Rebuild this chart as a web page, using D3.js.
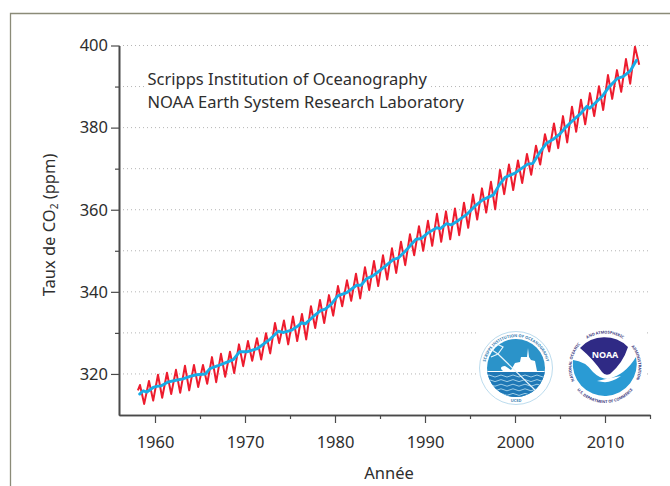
<!DOCTYPE html>
<html>
<head>
<meta charset="utf-8">
<script src="https://cdn.jsdelivr.net/npm/d3@7"></script>
<style>
    html, body { margin: 0; padding: 0; background: #fff; overflow: hidden; }
    svg { display: block; }
    text { font-family: "Noto Sans", "Open Sans", sans-serif; fill: #2e2e2e; }
</style>
</head>
<body>
<svg id="grafico" width="670" height="486"></svg>
<script>
// valeurs
const annees = [1958, 1959, 1960, 1961, 1962, 1963, 1964, 1965, 1966, 1967, 1968, 1969, 1970, 1971,
    1972, 1973, 1974, 1975, 1976, 1977, 1978, 1979, 1980, 1981, 1982, 1983, 1984, 1985, 1986, 1987,
    1988, 1989, 1990, 1991, 1992, 1993, 1994, 1995, 1996, 1997, 1998, 1999, 2000, 2001, 2002, 2003,
    2004, 2005, 2006, 2007, 2008, 2009, 2010, 2011, 2012, 2013];
const maxima = [317.3, 318.3, 319.8, 320.3, 321, 322, 322.2, 322.2, 324.1, 324.9, 325.4, 327.2, 328, 328.7,
    329.9, 332.4, 333, 334, 334.6, 336.5, 338, 339.2, 341.4, 342.8, 344.4, 346, 347.5, 348.9, 350.6, 352.2,
    354, 356, 357.3, 359, 359.6, 360.3, 361.7, 363.7, 365.2, 366.8, 369.7, 371, 372, 373.6, 375.6, 378.4,
    381, 382.8, 385.1, 386.8, 388.4, 390.1, 392.8, 394, 396.7, 399.7];
const minima = [312.7, 313.5, 314.2, 315.1, 315.4, 316, 316.8, 317.6, 318, 319.3, 320.2, 321.9, 323.2, 323.5,
    325, 327.5, 327.2, 328, 328.4, 331.2, 332.4, 334.2, 336.5, 337.8, 338.4, 340.4, 341.4, 343, 344.6, 346.5,
    348.9, 350, 351.2, 352.2, 352.8, 353.8, 355.6, 357.6, 359.3, 360.1, 363.8, 364.8, 366.5, 368.5, 371, 374.2,
    375, 376.4, 379, 380.8, 382.8, 384.3, 387, 388.7, 390.7, 395.3];
const debutRouge = { annee: 1958.1, co2: 316 };

const anneesTendance = [1958.3, 1958.7, 1959.1, 1959.8, 1960.2, 1960.7, 1961.4, 1962.2, 1963.1, 1963.9, 1964.6,
    1965.6, 1966.1, 1967, 1967.8, 1968.7, 1969.4, 1970.2, 1971.4, 1972.8, 1973.7, 1974.3, 1975.2, 1975.9, 1976.3,
    1976.7, 1977.6, 1978.4, 1978.9, 1979.6, 1980.3, 1981.3, 1982.4, 1982.9, 1983.5, 1984.2, 1985, 1986.5, 1987,
    1987.8, 1988.5, 1989, 1989.6, 1990.3, 1991.3, 1991.7, 1992.4, 1992.9, 1993.7, 1994.6, 1995.6, 1996.4, 1997.6,
    1998.3, 1998.9, 2000, 2000.7, 2001.4, 2002, 2002.8, 2003.5, 2004.2, 2005, 2005.6, 2006.3, 2007.2, 2008, 2008.3,
    2009.8, 2010.4, 2011.4, 2012, 2012.8, 2013.5];
const tendance = [315.1, 315.9, 315.6, 316.7, 317, 317.1, 318, 318.4, 318.8, 319.4, 319.8,
    320, 321.3, 322, 322.7, 323.5, 325.4, 325.4, 326.2, 328.5, 330.4, 330.1, 330.7, 331.7, 332.5,
    332.2, 334, 335.4, 335.8, 337, 339, 339.8, 341.6, 341.6, 343.2, 343.9, 345.2, 347.9, 348.2,
    349.9, 351.6, 352.8, 353, 354.3, 355.6, 355.4, 356.6, 356.3, 357.4, 358.8, 361, 362.4, 363.6,
    366.2, 367.9, 368.9, 370, 371.1, 371.3, 374.1, 376.2, 377.1, 378.5, 380, 381.5, 383.2, 385.2, 384.7,
    387.9, 389.8, 392, 392.4, 393.8, 396.4];

const ticksX = [1960, 1970, 1980, 1990, 2000, 2010];
const ticksXMineurs = [1965, 1975, 1985, 1995, 2005, 2015];
const ticksY = [320, 340, 360, 380, 400];
const ticksYMineurs = [330, 350, 370, 390];
const lignesGrille = [320, 330, 340, 350, 360, 370, 380, 390, 400];

const svg = d3.select("#grafico");

const xScale = d3.scaleLinear().domain([1956, 2015]).range([119, 650]);
const yScale = d3.scaleLinear().domain([310, 400]).range([415, 45.5]);

// cadre
svg.append("path")
    .attr("d", "M10.5,486V13.5H670")
    .attr("fill", "none")
    .attr("stroke", "#8b8b78")
    .attr("stroke-width", 1.3);

// grille
svg.selectAll(".grille")
    .data(lignesGrille)
    .enter()
    .append("line")
    .attr("x1", xScale.range()[0])
    .attr("x2", xScale.range()[1])
    .attr("y1", d => yScale(d))
    .attr("y2", d => yScale(d))
    .attr("stroke", "#b5b5b5")
    .attr("stroke-width", 1)
    .attr("stroke-dasharray", "1 3");

// cache la grille sous le texte et les logos
svg.append("rect").attr("x", 146).attr("y", 82).attr("width", 284).attr("height", 8).attr("fill", "#fff");
svg.append("rect").attr("x", 477).attr("y", 325).attr("width", 169).attr("height", 88).attr("fill", "#fff");

// axes
const couleurAxe = "#4a4a4a";
function styleAxe(g) {
    g.select(".domain").attr("stroke", couleurAxe).attr("stroke-width", 1.6);
    g.selectAll(".tick line").attr("stroke", couleurAxe).attr("stroke-width", 1.2);
    g.selectAll("text").attr("font-size", 16.5).attr("font-family", null).attr("fill", "#2e2e2e");
}

const axeX = d3.axisBottom(xScale).tickValues(ticksX).tickFormat(d3.format("d")).tickSize(8).tickSizeOuter(0).tickPadding(13);
const axeXMineur = d3.axisBottom(xScale).tickValues(ticksXMineurs).tickFormat("").tickSize(4).tickSizeOuter(0);
const axeY = d3.axisLeft(yScale).tickValues(ticksY).tickFormat(d3.format("d")).tickSize(8).tickSizeOuter(0).tickPadding(3);
const axeYMineur = d3.axisLeft(yScale).tickValues(ticksYMineurs).tickFormat("").tickSize(4).tickSizeOuter(0);

svg.append("g").attr("transform", "translate(0,415)").call(axeXMineur).call(styleAxe);
svg.append("g").attr("transform", "translate(0,415)").call(axeX).call(styleAxe);
svg.append("g").attr("transform", "translate(119,0)").call(axeYMineur).call(styleAxe);
svg.append("g").attr("transform", "translate(119,0)").call(axeY).call(styleAxe);

// courbes
const pointsRouges = [debutRouge];
annees.forEach((a, i) => {
    pointsRouges.push({ annee: a + 0.33, co2: maxima[i] });
    pointsRouges.push({ annee: a + 0.8, co2: minima[i] });
});
const pointsBleus = anneesTendance.map((a, i) => ({ annee: a, co2: tendance[i] }));

const ligne = d3.line().x(d => xScale(d.annee)).y(d => yScale(d.co2));

svg.append("path")
    .datum(pointsRouges)
    .attr("d", ligne)
    .attr("fill", "none")
    .attr("stroke", "#ed1c2e")
    .attr("stroke-width", 2)
    .attr("stroke-linejoin", "round");

svg.append("path")
    .datum(pointsBleus)
    .attr("d", ligne)
    .attr("fill", "none")
    .attr("stroke", "#17ace6")
    .attr("stroke-width", 2.9)
    .attr("stroke-linejoin", "round")
    .attr("stroke-linecap", "round");

// textes
svg.append("text").attr("x", 147.5).attr("y", 85).attr("font-size", 16.5)
    .text("Scripps Institution of Oceanography");
svg.append("text").attr("x", 147.5).attr("y", 107.5).attr("font-size", 16.5)
    .text("NOAA Earth System Research Laboratory");

const titreY = svg.append("text")
    .attr("transform", "translate(55,225) rotate(-90)")
    .attr("text-anchor", "middle")
    .attr("font-size", 16.5);
titreY.append("tspan").text("Taux de CO");
titreY.append("tspan").attr("font-size", 10).attr("dy", 3).text("2");
titreY.append("tspan").attr("dy", -3).text(" (ppm)");

svg.append("text")
    .attr("x", 389)
    .attr("y", 479)
    .attr("text-anchor", "middle")
    .attr("font-size", 16.5)
    .text("Année");

// texte courbe des logos, angles en degres depuis le haut
function arc(r, a1, a2) {
    const p = a => [r * Math.sin(a * Math.PI / 180), -r * Math.cos(a * Math.PI / 180)];
    const [x1, y1] = p(a1);
    const [x2, y2] = p(a2);
    const grand = Math.abs(a2 - a1) > 180 ? 1 : 0;
    const sens = a2 > a1 ? 1 : 0;
    return `M${x1},${y1}A${r},${r} 0 ${grand} ${sens} ${x2},${y2}`;
}
function texteCourbe(g, id, r, a1, a2, taille, couleur, contenu) {
    g.append("path").attr("id", id).attr("d", arc(r, a1, a2)).attr("fill", "none");
    g.append("text").attr("font-size", taille).attr("font-weight", 700).attr("style", "fill:" + couleur)
        .append("textPath").attr("href", "#" + id).attr("startOffset", "50%").attr("text-anchor", "middle")
        .text(contenu);
}

// logo Scripps
const scripps = svg.append("g").attr("transform", "translate(516,368)");
scripps.append("circle").attr("r", 36.5).attr("fill", "#fff").attr("stroke", "#bcdcee").attr("stroke-width", 1);
scripps.append("circle").attr("r", 29).attr("fill", "#2b93c9");
svg.append("clipPath").attr("id", "clipScripps").append("circle").attr("r", 29);
const dansDisque = scripps.append("g").attr("clip-path", "url(#clipScripps)");
dansDisque.append("rect").attr("x", -30).attr("y", 3).attr("width", 60).attr("height", 28).attr("fill", "#1f78b6");
dansDisque.append("path")
    .attr("d", "M-30,3 L-13,3 Q-18,-1 -11,-2 L-5,2 L-1,-5 L4,-6 L5,-11 L11,-11 L12,-20 L13,-11 L15,-8 L19,-7 L21,3 L30,3 L30,4 L-30,4Z")
    .attr("fill", "#fff");
for (let k = 0; k < 5; k++) {
    const yy = 8 + k * 4.6;
    dansDisque.append("path")
        .attr("d", `M-30,${yy} q3,-2 6,0 t6,0 t6,0 t6,0 t6,0 t6,0 t6,0 t6,0 t6,0 t6,0`)
        .attr("fill", "none")
        .attr("stroke", "#bfe3f3")
        .attr("stroke-width", 0.8);
}
scripps.append("path")
    .attr("d", "M-18,-14L19,22M-18,-14L-24,-18M-18,-14L-13,-21L-19,-24M-18,-14L-25,-11")
    .attr("fill", "none")
    .attr("stroke", "#e8f5fb")
    .attr("stroke-width", 1.2);
texteCourbe(scripps, "arcScripps", 31, -105, 105, 4, "#3b7fb3", "SCRIPPS INSTITUTION OF OCEANOGRAPHY");
scripps.append("text").attr("y", 34).attr("text-anchor", "middle").attr("font-size", 4).attr("font-weight", 700)
    .attr("style", "fill:#3b7fb3").text("UCSD");

// logo NOAA
const noaa = svg.append("g").attr("transform", "translate(605,367)");
noaa.append("circle").attr("r", 37).attr("fill", "#fff");
noaa.append("path")
    .attr("d", "M-32,-7Q-20,-6 -12,5Q-5,12 3,12Q20,8 31,-10A32,32 0 1 1 -32,-7Z")
    .attr("fill", "#2a9bd4");
noaa.append("path")
    .attr("d", "M-25,-19A33,33 0 0 1 23,-20Q18,-4 5,7Q0,9 -3,5Q-12,-8 -25,-19Z")
    .attr("fill", "#2f2a85");
noaa.append("path")
    .attr("d", "M-8,14Q4,11 16,9Q6,16 -2,15Z")
    .attr("fill", "#fff");
noaa.append("text").attr("y", -9).attr("text-anchor", "middle").attr("font-size", 9).attr("font-weight", 700)
    .attr("style", "fill:#fff").text("NOAA");
texteCourbe(noaa, "arcNoaa1", 33.5, -120, -42, 3.9, "#3c3a80", "NATIONAL OCEANIC");
texteCourbe(noaa, "arcNoaa2", 33.5, -38, 38, 3.9, "#3c3a80", "AND ATMOSPHERIC");
texteCourbe(noaa, "arcNoaa3", 33.5, 44, 120, 3.9, "#3c3a80", "ADMINISTRATION");
texteCourbe(noaa, "arcNoaa4", 36, 240, 120, 3.9, "#3c3a80", "U.S. DEPARTMENT OF COMMERCE");
</script>
</body>
</html>
